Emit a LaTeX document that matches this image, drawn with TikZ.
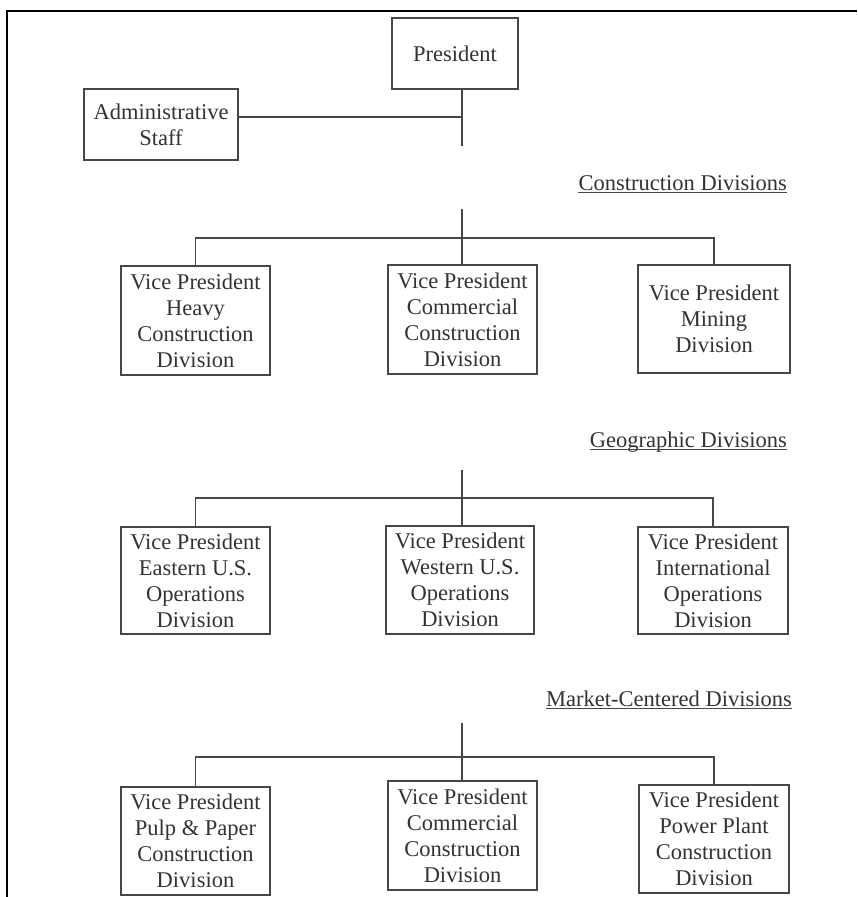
\documentclass[tikz,border=0pt]{standalone}
\usepackage{fontspec}
\setmainfont{Liberation Serif}
\begin{document}
\begin{tikzpicture}[x=1pt,y=-1pt,
  orgbox/.style={draw=black!72, line width=1.3pt, align=center, inner sep=0pt,
    text=black!80, font=\fontsize{22.5}{26}\selectfont},
  link/.style={draw=black!72, line width=1.3pt},
  grouplabel/.style={anchor=base east, inner sep=0pt, text=black!80,
    font=\fontsize{22.5}{26}\selectfont},
  uline/.style={draw=black!72, line width=1pt}]
\useasboundingbox (0,0) rectangle (857,897);

% page frame (top and left rules)
\draw[line width=2.2pt, line join=miter] (7,897) -- (7,11) -- (857,11);

% top level
\node[orgbox, minimum width=126pt, minimum height=71pt] (pres) at (455,53.5) {President};
\node[orgbox, minimum width=154pt, minimum height=71pt] (admin) at (161,124.5) {Administrative\\Staff};
\coordinate (tj) at (462,117);
\coordinate (t0) at (462,146);
\draw[link] (pres.south -| t0) -- (t0);
\draw[link] (tj) -- (tj -| admin.east);

% construction divisions
\node[grouplabel] (lbl1) at (787,190) {Construction Divisions};
\draw[uline] ([yshift=-2pt]lbl1.base west) -- ([yshift=-2pt]lbl1.base east);
\node[orgbox, minimum width=149pt, minimum height=109pt] (heavy) at (195.5,320.5) {Vice President\\Heavy\\Construction\\Division};
\node[orgbox, minimum width=149pt, minimum height=109pt] (comm1) at (462.5,319.5) {Vice President\\Commercial\\Construction\\Division};
\node[orgbox, minimum width=152pt, minimum height=108pt] (mining) at (714,319) {Vice President\\Mining\\Division};
\coordinate (r1top) at (462,209);
\coordinate (r1bar) at (462,238);
\draw[link] (r1top) -- (r1top |- comm1.north);
\draw[link] (heavy.north) |- (r1bar) -| (mining.north);

% geographic divisions
\node[grouplabel] (lbl2) at (787,447) {Geographic Divisions};
\draw[uline] ([yshift=-2pt]lbl2.base west) -- ([yshift=-2pt]lbl2.base east);
\node[orgbox, minimum width=149pt, minimum height=107pt] (east) at (195.5,580.5) {Vice President\\Eastern U.S.\\Operations\\Division};
\node[orgbox, minimum width=148pt, minimum height=108pt] (west) at (460,580) {Vice President\\Western U.S.\\Operations\\Division};
\node[orgbox, minimum width=150pt, minimum height=107pt] (intl) at (713,580.5) {Vice President\\International\\Operations\\Division};
\coordinate (r2top) at (462,470);
\coordinate (r2bar) at (462,498);
\draw[link] (r2top) -- (r2top |- west.north);
\draw[link] (east.north) |- (r2bar) -| (intl.north);

% market-centered divisions
\node[grouplabel] (lbl3) at (792,706) {Market-Centered Divisions};
\draw[uline] ([yshift=-2pt]lbl3.base west) -- ([yshift=-2pt]lbl3.base east);
\node[orgbox, minimum width=149pt, minimum height=108pt] (pulp) at (195.5,841) {Vice President\\Pulp \& Paper\\Construction\\Division};
\node[orgbox, minimum width=149pt, minimum height=109pt] (comm2) at (462.5,835.5) {Vice President\\Commercial\\Construction\\Division};
\node[orgbox, minimum width=150pt, minimum height=108pt] (power) at (714,839) {Vice President\\Power Plant\\Construction\\Division};
\coordinate (r3top) at (462,723);
\coordinate (r3bar) at (462,757);
\draw[link] (r3top) -- (r3top |- comm2.north);
\draw[link] (pulp.north) |- (r3bar) -| (power.north);
\end{tikzpicture}
\end{document}
